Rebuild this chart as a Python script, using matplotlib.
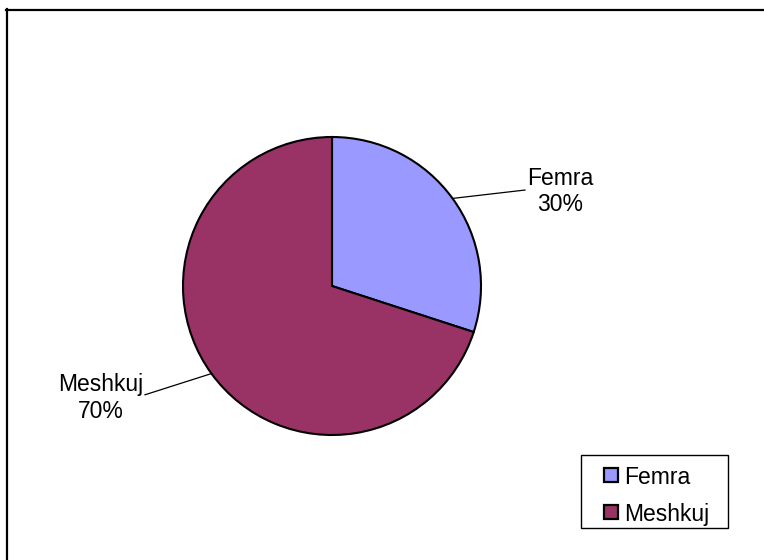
import numpy as np
import matplotlib
matplotlib.use("Agg")
import matplotlib.pyplot as plt
from matplotlib.lines import Line2D
from matplotlib.patches import Rectangle

categories = ["Femra", "Meshkuj"]
values = [30, 70]
colors = ["#9999FF", "#993366"]

plt.rcParams['font.family'] = ['Liberation Sans', 'DejaVu Sans']

W, H = 764, 560
fig = plt.figure(figsize=(W/100, H/100), dpi=100)
fig.patch.set_facecolor("white")

def fx(x):
    return x / W

def fy(y):
    return 1 - y / H

# outer chart border (top and left visible)
fig.add_artist(Line2D([fx(5.5), 1.01], [fy(9.5), fy(9.5)], color="black", lw=1.6))
fig.add_artist(Line2D([fx(6.5), fx(6.5)], [-0.01, fy(9)], color="black", lw=1.6))

cx, cy, r = 332, 286, 149
ax = fig.add_axes([(cx-r)/W, (H-cy-r)/H, 2*r/W, 2*r/H])
wedges, _ = ax.pie(values, colors=colors, startangle=90, counterclock=False,
                   wedgeprops=dict(edgecolor="black", linewidth=1.5), radius=1)
ax.set_xlim(-1, 1)
ax.set_ylim(-1, 1)
ax.set_aspect("equal")
ax.axis("off")

total = sum(values)
label_pos = [(1.53, 0.635), (-1.55, -0.75)]
line_end = [(1.295, 0.644), (-1.255, -0.73)]
start = 90
for i, (cat, v) in enumerate(zip(categories, values)):
    ang = start - 360*v/total/2
    start -= 360*v/total
    a = np.deg2rad(ang)
    px, py = np.cos(a), np.sin(a)
    ex, ey = line_end[i]
    ax.plot([px, ex], [py, ey], color="black", lw=0.9, clip_on=False)
    pct = f"{round(100*v/total)}%"
    ax.text(label_pos[i][0], label_pos[i][1], f"{cat}\n{pct}", ha="center", va="center",
            fontsize=16.5, linespacing=1.2, clip_on=False)

# legend box drawn in figure pixel coordinates
fig.add_artist(Rectangle((fx(581), fy(528)), (728-581)/W, (528-455)/H,
                         facecolor="white", edgecolor="black", lw=1.0,
                         transform=fig.transFigure))
for i, (cat, c) in enumerate(zip(categories, colors)):
    yc = 475 + i*36.5
    fig.add_artist(Rectangle((fx(604), fy(yc+7)), 14/W, 14/H, facecolor=c,
                             edgecolor="black", lw=1.6, transform=fig.transFigure))
    fig.text(fx(624), fy(yc), cat, ha="left", va="center_baseline", fontsize=16.5)

fig.savefig("out.png", dpi=100)
